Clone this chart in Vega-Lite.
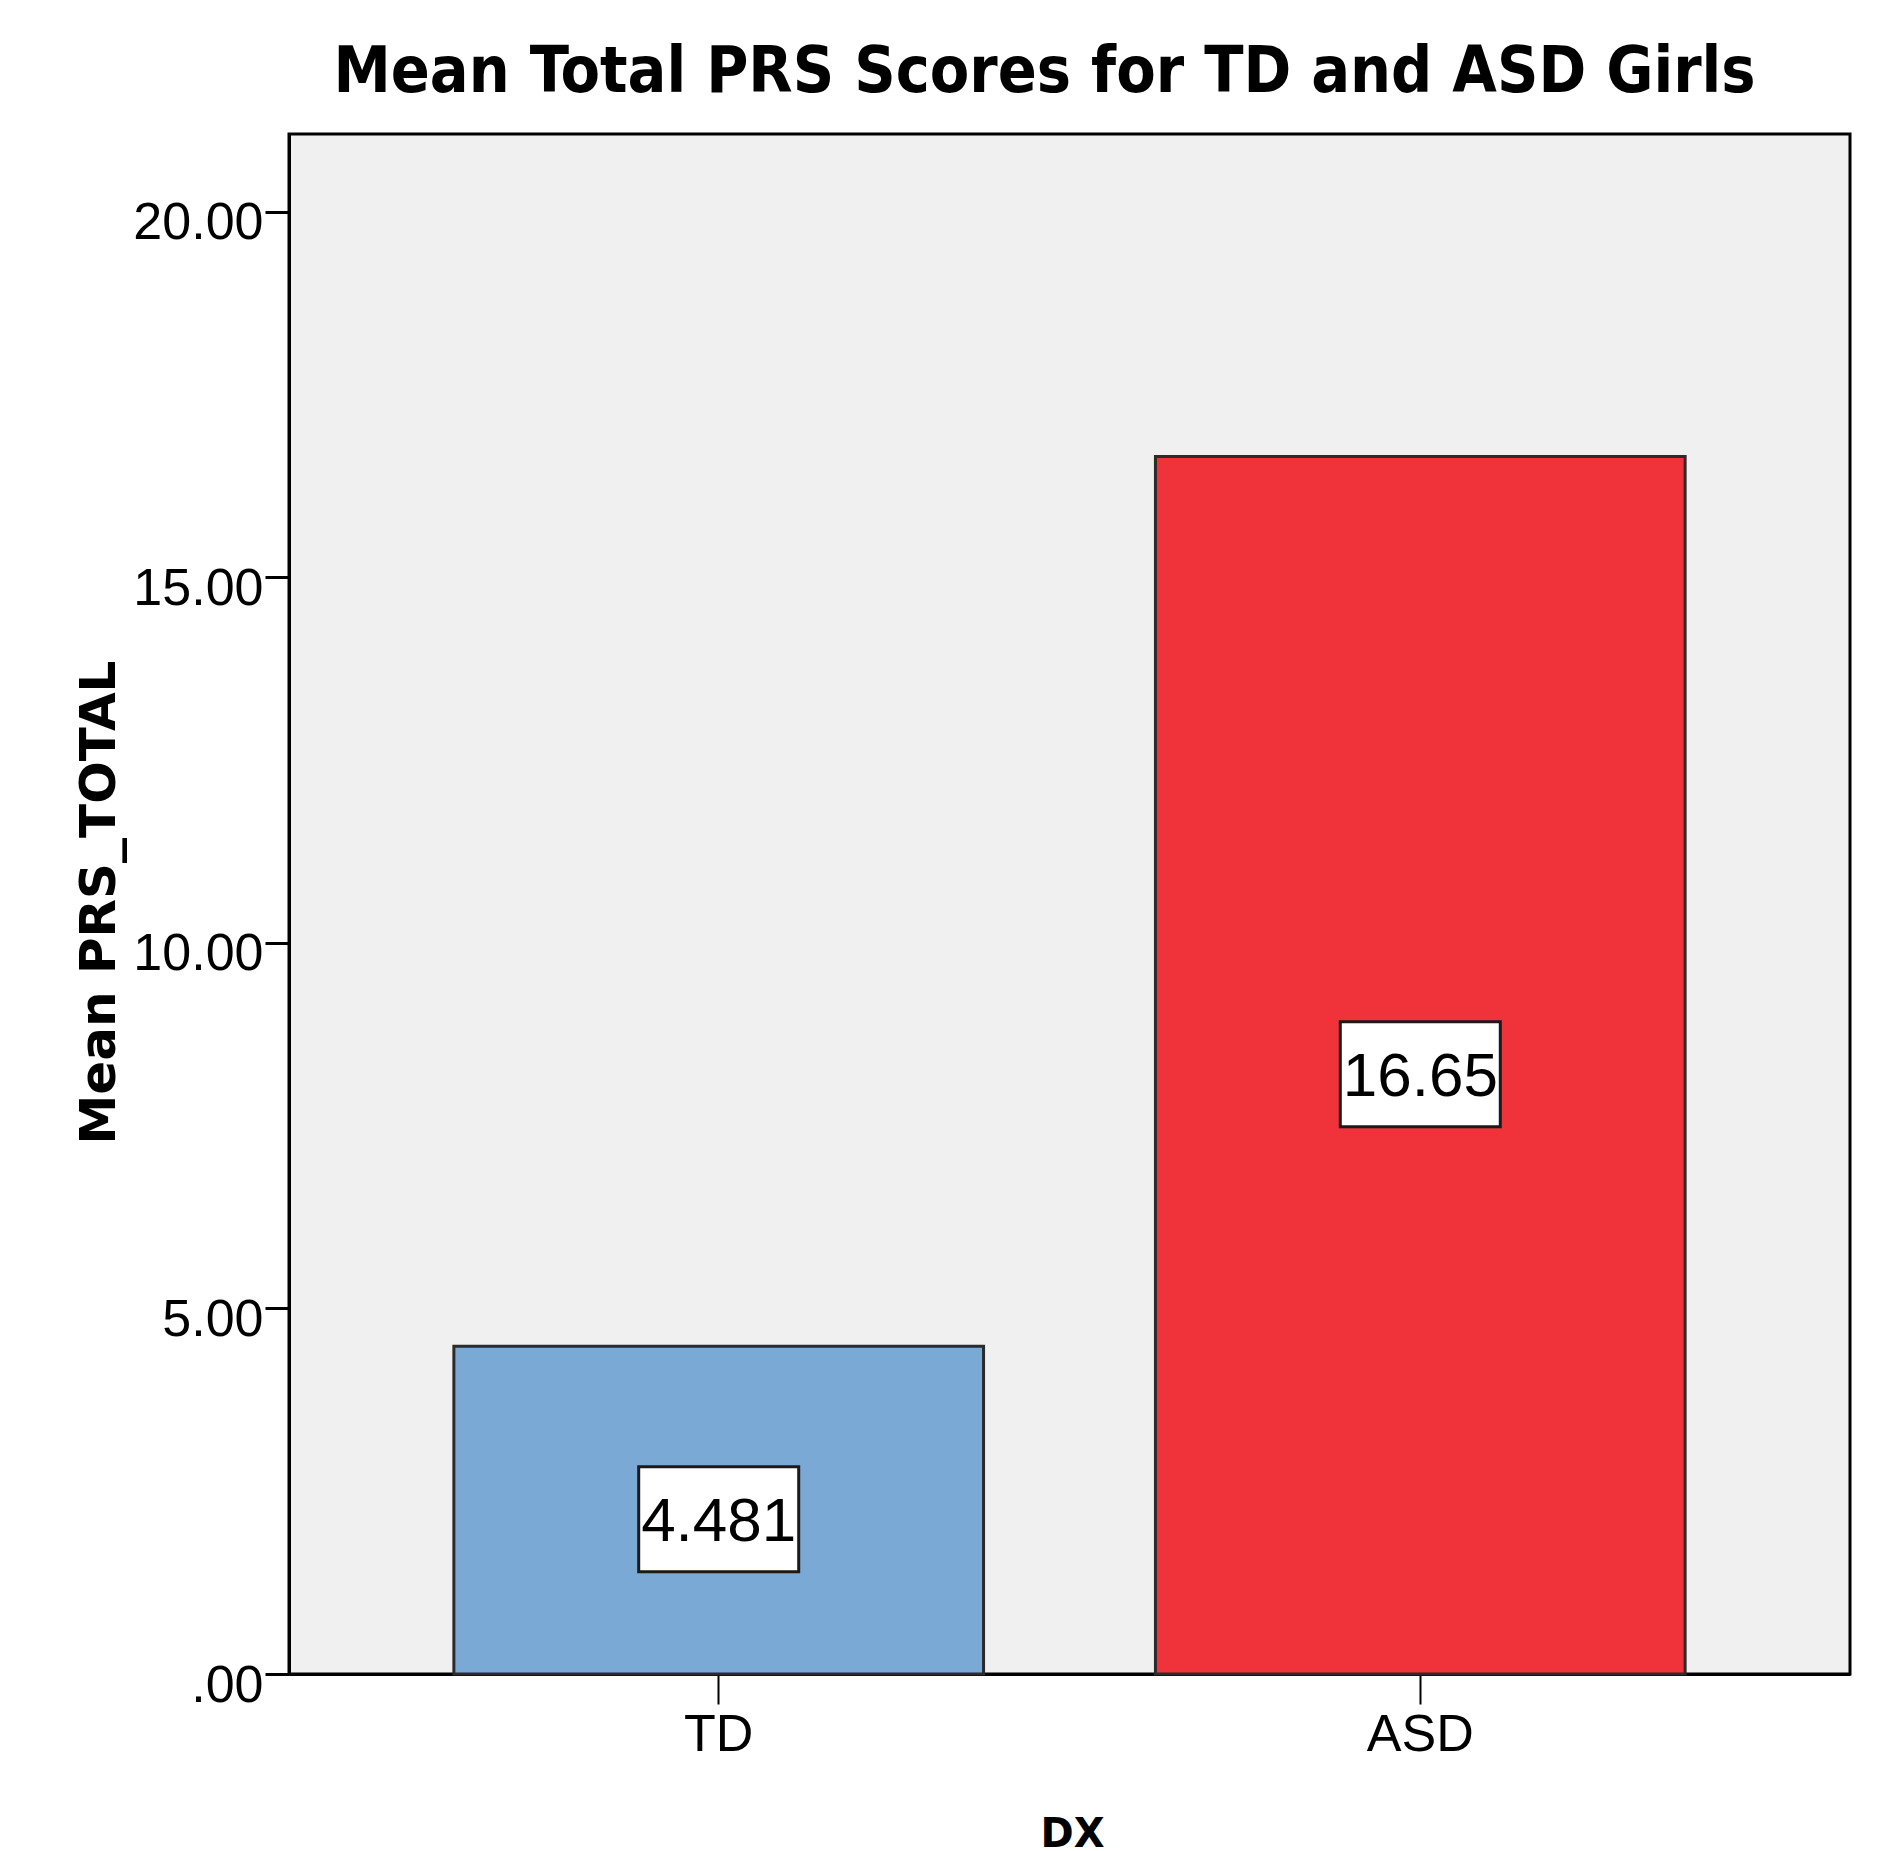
{
  "$schema": "https://vega.github.io/schema/vega-lite/v6.json",
  "autosize": "none",
  "width": 1561,
  "height": 1540,
  "padding": {"left": 289, "top": 134, "right": 39, "bottom": 177},
  "background": "white",
  "data": {"values": [
    {"DX": "TD", "mean": 4.481, "label": "4.481"},
    {"DX": "ASD", "mean": 16.65, "label": "16.65"}
  ]},
  "title": {
    "text": "Mean Total PRS Scores for TD and ASD Girls",
    "font": "DejaVu Sans Condensed",
    "fontWeight": "bold",
    "fontSize": 64,
    "color": "#000000",
    "anchor": "middle",
    "baseline": "alphabetic",
    "offset": 41,
    "dy": 63,
    "dx": -25
  },
  "config": {
    "view": {"fill": "#F0F0F0", "stroke": "#000000", "strokeWidth": 3},
    "axis": {"grid": false}
  },
  "transform": [{"calculate": "datum.mean / 2", "as": "mid"}],
  "encoding": {
    "x": {
      "field": "DX",
      "type": "nominal",
      "sort": ["TD", "ASD"],
      "scale": {"paddingInner": 0.245, "paddingOuter": 0.235},
      "axis": {
        "title": "DX",
        "titleFont": "DejaVu Sans",
        "titleFontWeight": "bold",
        "titleFontSize": 40,
        "titleColor": "#000000",
        "titleX": 783,
        "titleY": 140,
        "titleBaseline": "top",
        "labelAngle": 0,
        "labelFont": "Liberation Sans",
        "labelFontSize": 52,
        "labelColor": "#000000",
        "labelBaseline": "top",
        "labelPadding": 5,
        "tickSize": 30,
        "tickWidth": 2,
        "tickColor": "#000000",
        "domainColor": "#000000",
        "domainWidth": 3
      }
    }
  },
  "layer": [
    {
      "mark": {"type": "bar", "strokeWidth": 3, "stroke": "#2b2b2b"},
      "encoding": {
        "y": {
          "field": "mean",
          "type": "quantitative",
          "scale": {"domain": [0, 21.06], "nice": false, "zero": true},
          "axis": {
            "title": "Mean PRS_TOTAL",
            "titleFont": "DejaVu Sans",
            "titleFontWeight": "bold",
            "titleFontSize": 50,
            "titleColor": "#000000",
            "titleX": -190,
            "titleY": 768,
            "titleBaseline": "middle",
            "titleAngle": 270,
            "values": [0, 5, 10, 15, 20],
            "labelExpr": "datum.value == 0 ? '.00' : format(datum.value, '.2f')",
            "labelFont": "Liberation Sans",
            "labelFontSize": 52,
            "labelColor": "#000000",
            "labelPadding": 2,
            "labelOffset": 11,
            "tickSize": 24,
            "tickWidth": 3,
            "tickColor": "#000000",
            "domainColor": "#000000",
            "domainWidth": 3
          }
        },
        "color": {
          "field": "DX",
          "type": "nominal",
          "scale": {"domain": ["TD", "ASD"], "range": ["#7BA9D6", "#F0323A"]},
          "legend": null
        }
      }
    },
    {
      "mark": {
        "type": "point",
        "shape": "M-1,-0.656L1,-0.656L1,0.656L-1,0.656Z",
        "size": 25600,
        "filled": true,
        "fill": "#FFFFFF",
        "stroke": "#1a1a1a",
        "strokeWidth": 3,
        "opacity": 1,
        "yOffset": 9
      },
      "encoding": {
        "y": {"field": "mid", "type": "quantitative"}
      }
    },
    {
      "mark": {
        "type": "text",
        "font": "Liberation Sans",
        "fontSize": 62,
        "color": "#000000",
        "align": "center",
        "baseline": "middle",
        "yOffset": 12
      },
      "encoding": {
        "y": {"field": "mid", "type": "quantitative"},
        "text": {"field": "label", "type": "nominal"}
      }
    }
  ]
}
